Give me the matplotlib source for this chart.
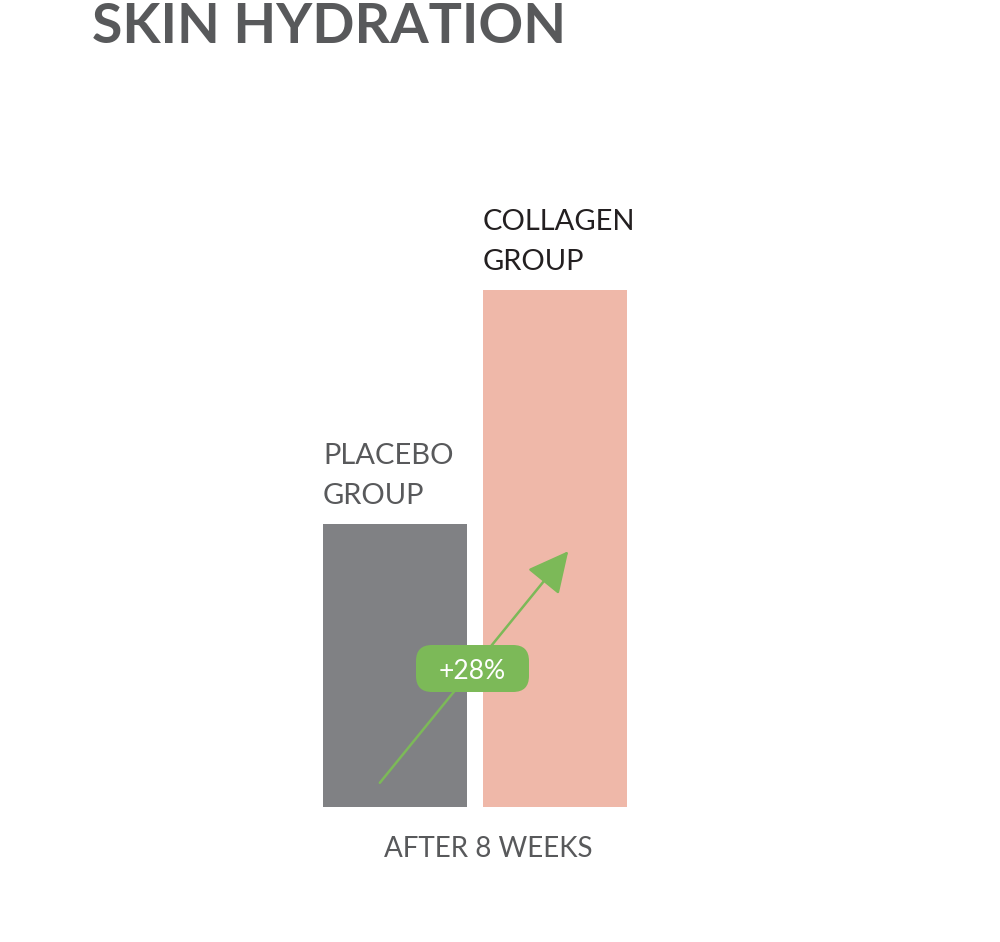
import matplotlib.pyplot as plt
from matplotlib.patches import FancyBboxPatch, FancyArrowPatch

# Chart data (relative hydration)
groups = ["PLACEBO\nGROUP", "COLLAGEN\nGROUP"]
values = [28.3, 51.7]
colors = ["#808184", "#efb8a9"]
label_colors = ["#58595b", "#231f20"]
gain_label = "+28%"
period_label = "AFTER 8 WEEKS"
title = "SKIN HYDRATION"

W, H = 1000, 942
fig = plt.figure(figsize=(W / 100, H / 100), dpi=100)
plt.rcParams['font.family'] = ['Lato', 'DejaVu Sans']


def fx(px):
    return px / W


def fy(py):
    return 1 - py / H


# axes: bottom at 807 px, one category step = 160 px, centre of first bar at 395 px
ax = fig.add_axes([0, fy(807), 1, 807 / H])
ax.set_xlim(-395 / 160, (W - 395) / 160)
ax.set_ylim(0, 80.7)
ax.axis("off")

x = range(len(values))
ax.bar(x, values, width=0.9, color=colors, zorder=1)

# group labels above bars, left aligned with bar edge
for i, (lab, v, c) in enumerate(zip(groups, values, label_colors)):
    ax.text(i - 0.45, v + 2.0, lab, ha="left", va="baseline", fontsize=21,
            color=c, linespacing=1.65)

# growth arrow
arrow = FancyArrowPatch((-0.106, 2.2), (1.094, 25.8),
                        arrowstyle="-|>,head_length=1.7,head_width=0.85",
                        color="#7cb958", lw=1.8, mutation_scale=15, zorder=2)
ax.add_patch(arrow)

# badge
bx0, by0, bw, bh = 416, 645, 113, 47
badge = FancyBboxPatch((fx(bx0), fy(by0 + bh)), fx(bw), bh / H,
                       boxstyle="round,pad=0,rounding_size=0.016",
                       transform=fig.transFigure, facecolor="#7cb958",
                       edgecolor="none", zorder=3, mutation_aspect=W / H)
fig.patches.append(badge)
fig.text(fx(bx0 + bw / 2), fy(679), gain_label, ha="center", va="baseline",
         fontsize=19, color="white", zorder=4)

fig.text(fx(488), fy(857), period_label, ha="center", va="baseline",
         fontsize=20, color="#58595b")

fig.text(fx(92), fy(43), title, ha="left", va="baseline", fontsize=40,
         fontweight="bold", color="#58595b")

fig.savefig("out.png", dpi=100, facecolor="white")
